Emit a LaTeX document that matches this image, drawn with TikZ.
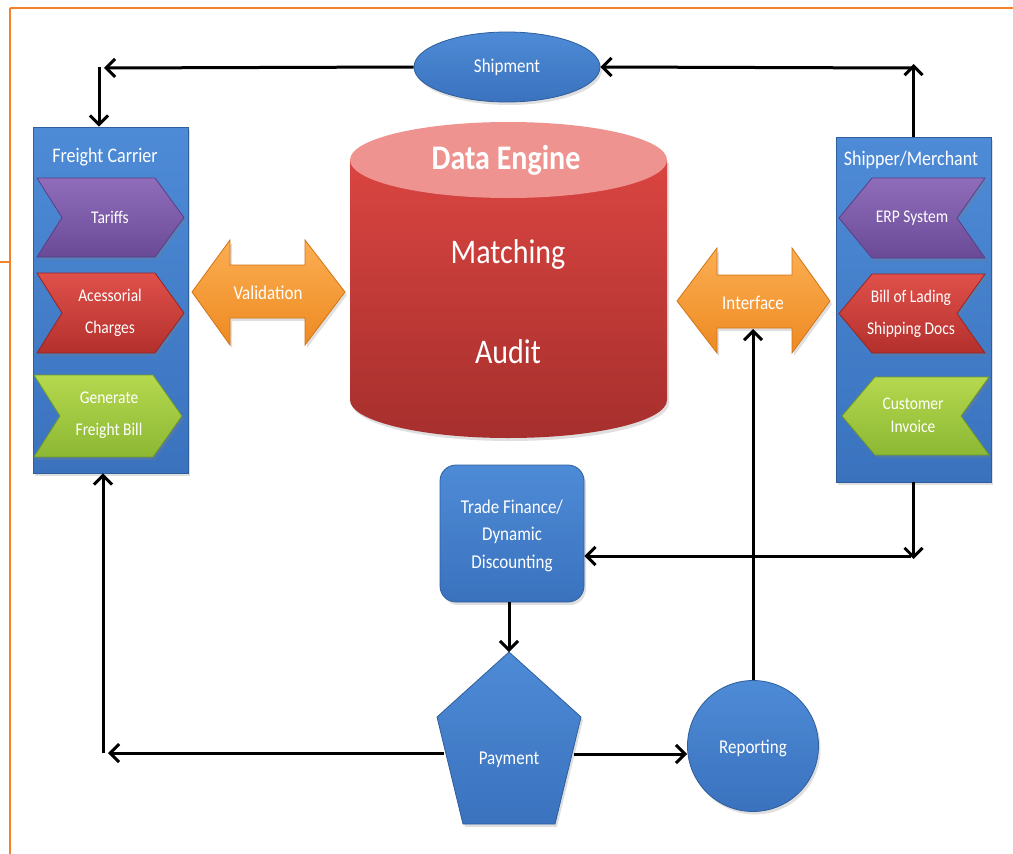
\documentclass[tikz,border=0pt]{standalone}
\usepackage{fontspec}
\setmainfont{Carlito}
\usepackage{graphicx}
\usetikzlibrary{arrows.meta,shapes.geometric,shadows}
\definecolor{borderorange}{HTML}{F5822A}
\definecolor{bluetop}{HTML}{4E8BD6}
\definecolor{bluebot}{HTML}{3A72BE}
\definecolor{blueedge}{HTML}{2E5E9C}
\definecolor{purtop}{HTML}{8F6DBB}
\definecolor{purbot}{HTML}{6A4A96}
\definecolor{puredge}{HTML}{5B3E85}
\definecolor{redtop}{HTML}{E0504A}
\definecolor{redbot}{HTML}{B3302D}
\definecolor{rededge}{HTML}{962523}
\definecolor{grntop}{HTML}{B5D84E}
\definecolor{grnbot}{HTML}{8CB834}
\definecolor{grnedge}{HTML}{729A27}
\definecolor{orgtop}{HTML}{FBAE52}
\definecolor{orgbot}{HTML}{EE8A22}
\definecolor{orgedge}{HTML}{D47415}
\definecolor{cyltop}{HTML}{EE938F}
\definecolor{cylA}{HTML}{DA4541}
\definecolor{cylB}{HTML}{A62F2D}
\newcommand{\vs}[1]{\scalebox{1}[1.15]{#1}}
\begin{document}
\begin{tikzpicture}[x=1pt,y=-1pt,
  shad/.style={drop shadow={opacity=0.25,shadow xshift=2pt,shadow yshift=-3pt}},
  bluebox/.style={shad,top color=bluetop,bottom color=bluebot,draw=blueedge,line width=0.8pt},
  chevP/.style={shad,top color=purtop,bottom color=purbot,draw=puredge,line width=0.8pt},
  chevR/.style={shad,top color=redtop,bottom color=redbot,draw=rededge,line width=0.8pt},
  chevG/.style={shad,top color=grntop,bottom color=grnbot,draw=grnedge,line width=0.8pt},
  dblarrow/.style={shad,top color=orgtop,bottom color=orgbot,draw=orgedge,line width=0.8pt},
  lbl/.style={text=white,inner sep=0pt,align=center},
  small/.style={lbl,font=\fontsize{15.5}{32}\selectfont},
  mid/.style={lbl,font=\fontsize{17}{27.5}\selectfont},
  ttl/.style={lbl,font=\fontsize{18}{22}\selectfont},
  big/.style={lbl,font=\fontsize{30}{36}\selectfont},
  arr/.style={line width=3pt,-{Straight Barb[length=9pt,width=18pt]}},
  border/.style={draw=borderorange,line width=2pt}
]
\useasboundingbox (0,0) rectangle (1013,854);
\fill[white] (0,0) rectangle (1013,854);

% orange frame
\draw[border] (10,8) -- (1013,8);
\draw[border] (10,8) -- (10,854);
\draw[border] (0,262) -- (10,262);

% Shipment
\node[ellipse,bluebox,minimum width=186pt,minimum height=70pt,inner sep=0pt] (ship) at (507,67) {};
\node[mid] (shiptxt) at (ship.center) {\vs{Shipment}};

% Freight Carrier panel
\node[rectangle,bluebox,minimum width=155pt,minimum height=346pt,inner sep=0pt] (fc) at (110.5,300) {};
\node[ttl] (fctitle) at (105,157) {\vs{Freight Carrier}};
\path[chevP] (37,178) -- (155,178) -- (184,217.5) -- (155,257) -- (37,257) -- (62,217.5) -- cycle;
\node[small] (tariffs) at (110,217) {\vs{Tariffs}};
\path[chevR] (37,273) -- (155,273) -- (184,313) -- (155,353) -- (37,353) -- (62,313) -- cycle;
\node[small] (acc) at (110,313) {\vs{Acessorial}\\\vs{Charges}};
\path[chevG] (34,375) -- (153,375) -- (182,416) -- (153,457) -- (34,457) -- (60,416) -- cycle;
\node[small] (gen) at (109,415.5) {\vs{Generate}\\\vs{Freight Bill}};

% Shipper/Merchant panel
\node[rectangle,bluebox,minimum width=155pt,minimum height=345pt,inner sep=0pt] (sm) at (913.5,309.5) {};
\node[ttl] (smtitle) at (911,160) {\vs{Shipper/Merchant}};
\path[chevP] (985,178) -- (872,178) -- (839,218) -- (872,258) -- (985,258) -- (957,218) -- cycle;
\node[small] (erp) at (912,218) {\vs{ERP System}};
\path[chevR] (985,274) -- (872,274) -- (839,313.5) -- (872,353) -- (985,353) -- (957,313.5) -- cycle;
\node[small] (bol) at (911,313.5) {\vs{Bill of Lading}\\\vs{Shipping Docs}};
\path[chevG] (989,377) -- (875,377) -- (842,416) -- (875,455) -- (989,455) -- (961,416) -- cycle;
\node[lbl,font=\fontsize{15.5}{23}\selectfont] (ci) at (913,415.5) {\vs{Customer}\\\vs{Invoice}};

% Validation double arrow
\path[dblarrow] (192,292) -- (230,240) -- (230,265) -- (305,265) -- (305,240) -- (345,292)
  -- (305,345) -- (305,318) -- (230,318) -- (230,345) -- cycle;
\node[mid] (val) at (268,293) {\vs{Validation}};

% Interface double arrow
\path[dblarrow] (677,301) -- (717,248) -- (717,275) -- (792,275) -- (792,248) -- (830,301)
  -- (792,353) -- (792,328) -- (717,328) -- (717,353) -- cycle;
\node[mid] (intf) at (753,303) {\vs{Interface}};
\coordinate (intfbot) at (753,329);

% Data Engine cylinder
\path[shad,top color=cylA,bottom color=cylB] (350,160) -- (350,400)
  arc[start angle=180,end angle=360,x radius=158.5pt,y radius=38pt] -- (667,160) -- cycle;
\fill[cyltop] (508.5,160) ellipse[x radius=158.5pt,y radius=38pt];
\node[big,font=\fontsize{30}{36}\selectfont\bfseries] (de) at (506,160) {\vs{Data Engine}};
\node[big] (match) at (508,254) {\vs{Matching}};
\node[big] (audit) at (508,352) {\vs{Audit}};

% Trade Finance
\node[rectangle,rounded corners=16pt,bluebox,minimum width=144pt,minimum height=137pt,inner sep=0pt] (tf) at (512,533.5) {};
\node[mid] (tftxt) at (512,535.5) {\vs{Trade Finance/}\\\vs{Dynamic}\\\vs{Discounting}};

% Payment pentagon
\path[bluebox] (509,652) -- (581,717) -- (555,824) -- (463,824) -- (437,717) -- cycle;
\node[mid] (pay) at (509,760) {\vs{Payment}};
\coordinate (paytop) at (509,652);
\coordinate (payL) at (444,753);
\coordinate (payR) at (574,754);

% Reporting
\node[circle,bluebox,minimum size=131pt,inner sep=0pt] (rep) at (753,746) {};
\node[mid] (reptxt) at (753,748) {\vs{Reporting}};

% connectors
\coordinate (tlh) at (104,68);
\coordinate (tlv) at (99,67);
\coordinate (trv) at (913.5,64);
\coordinate (trh) at (911,68);
\coordinate (brv) at (913.5,559);
\coordinate (brh) at (911,556);
\coordinate (blh) at (108,753);
\coordinate (blv) at (103,753);
\draw[arr] (ship.west) -- (tlh);
\draw[arr] (tlv) -- (tlv |- fc.north);
\draw[arr] (sm.north) -- (trv);
\draw[arr] (trh) -- (ship.east);
\draw[arr] (sm.south) -- (brv);
\draw[arr] (brh) -- (tf.east |- brh);
\draw[arr] (rep.north) -- (intfbot);
\draw[arr] (tf.south -| paytop) -- (paytop);
\draw[arr] (payR) -- (rep.west |- payR);
\draw[arr] (payL) -- (blh);
\draw[arr] (blv) -- (blv |- fc.south);
\end{tikzpicture}
\end{document}
